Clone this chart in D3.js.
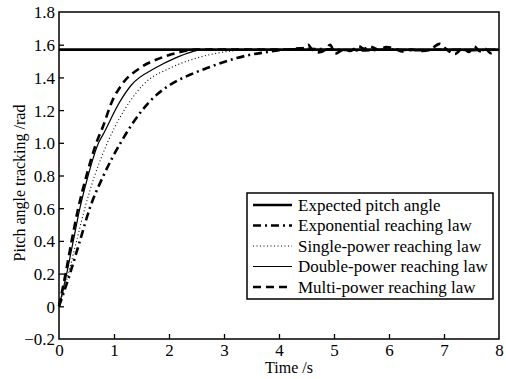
<!DOCTYPE html>
<html><head><meta charset="utf-8">
<script src="https://cdn.jsdelivr.net/npm/d3@7"></script>
<style>body{margin:0;background:#fff}svg{display:block}</style>
</head><body><svg id="c" width="506" height="379"></svg>
<script>
const xTicks = [0,1,2,3,4,5,6,7,8];
const yTicks = [-0.2,0,0.2,0.4,0.6,0.8,1.0,1.2,1.4,1.6,1.8];
const yTickLabels = ["\u22120.2","0","0.2","0.4","0.6","0.8","1.0","1.2","1.4","1.6","1.8"];
const legendNames = ["Expected pitch angle","Exponential reaching law","Single-power reaching law","Double-power reaching law","Multi-power reaching law"];

const expectedT = [0, 8];
const expectedV = [1.57, 1.57];

const expT = [0,0.2,0.38,0.56,0.81,1.12,1.65,2.02,2.38,2.69,3.23,3.5,3.78,4.0,4.2,4.5,5.0,5.5,6.0,6.5,7.0,7.5,8.0];
const expV = [0,0.2,0.4,0.6,0.8,1.0,1.253,1.355,1.416,1.457,1.518,1.54,1.555,1.567,1.572,1.575,1.57,1.565,1.57,1.566,1.57,1.567,1.57];

const singleT = [0,0.17,0.32,0.47,0.65,0.88,1.29,1.53,2.02,2.5,3.1,3.5,8];
const singleV = [0,0.2,0.4,0.6,0.8,1.0,1.253,1.355,1.457,1.518,1.56,1.57,1.57];

const doubleT = [0,0.14,0.26,0.38,0.53,0.72,0.8,1.11,1.32,1.75,2.11,2.4,2.6,8];
const doubleV = [0,0.2,0.4,0.6,0.8,1.0,1.05,1.253,1.355,1.457,1.518,1.555,1.57,1.57];

const multiT = [0,0.12,0.23,0.35,0.5,0.68,0.8,0.96,1.14,1.47,1.84,2.2,2.5,4.2,4.3,4.45,4.53,4.6,4.72,4.85,4.93,5.02,5.15,5.3,5.45,5.55,5.65,5.8,5.95,6.1,6.25,6.4,6.6,6.75,6.92,7.05,7.2,7.35,7.45,7.55,7.65,7.75,7.85,7.95];
const multiV = [0,0.2,0.4,0.6,0.8,1.0,1.1,1.25,1.355,1.457,1.518,1.555,1.57,1.57,1.576,1.58,1.6,1.57,1.553,1.57,1.6,1.545,1.565,1.562,1.59,1.575,1.59,1.57,1.585,1.575,1.558,1.57,1.562,1.57,1.605,1.57,1.543,1.58,1.555,1.59,1.56,1.575,1.548,1.57];

const FONT = "'Liberation Serif','Times New Roman',serif";
const svg = d3.select("#c");
const L=59, R=499, T=12, B=339;
const x = d3.scaleLinear().domain([0,8]).range([L,R]);
const y = d3.scaleLinear().domain([-0.2,1.8]).range([B,T]);

const styles = [
  {w:2.6, dash:null},
  {w:2.6, dash:"8,4,2,4"},
  {w:1.1, dash:"1,2.5"},
  {w:1.2, dash:null},
  {w:2.6, dash:"8,5"}
];
const series = [[expectedT,expectedV],[expT,expV],[singleT,singleV],[doubleT,doubleV],[multiT,multiV]];

const g = svg.append("g");
const line = d3.line().x(d=>x(d[0])).y(d=>y(d[1])).curve(d3.curveMonotoneX);
[1,2,3,4,0].forEach(i=>{
  const [tt,vv]=series[i];
  const pts = tt.map((t,k)=>[t,vv[k]]);
  g.append("path").attr("d",line(pts)).attr("fill","none").attr("stroke","#000")
    .attr("stroke-width",styles[i].w).attr("stroke-dasharray",styles[i].dash);
});

const xAxis = d3.axisBottom(x).tickValues(xTicks).tickSize(-5).tickPadding(4).tickFormat(d3.format("d"));
const yAxis = d3.axisLeft(y).tickValues(yTicks).tickSize(-5).tickPadding(4).tickFormat((d,i)=>yTickLabels[i]);
const gx = svg.append("g").attr("transform",`translate(0,${B})`).call(xAxis);
const gy = svg.append("g").attr("transform",`translate(${L},0)`).call(yAxis);
[gx,gy].forEach(a=>{
  a.attr("font-family",null).attr("font-size",null);
  a.select(".domain").remove();
  a.selectAll("line").attr("stroke","#000").attr("stroke-width",1.3);
  a.selectAll("text").style("font-family",FONT).style("font-size","17px").attr("fill","#000");
});
gx.selectAll(".tick line").filter(d=>d===0||d===8).remove();
gy.selectAll(".tick line").filter(d=>d===-0.2||d===1.8).remove();
gy.selectAll("text").attr("dy","0.35em");
gx.selectAll("text").attr("dy","0.75em");

svg.append("rect").attr("x",L).attr("y",T).attr("width",R-L).attr("height",B-T)
  .attr("fill","none").attr("stroke","#000").attr("stroke-width",1.5);

svg.append("text").attr("x",289).attr("y",373).attr("text-anchor","middle")
  .style("font-family",FONT).style("font-size","16px").text("Time /s");
svg.append("text").attr("transform","translate(25,183) rotate(-90)").attr("text-anchor","middle")
  .style("font-family",FONT).style("font-size","16px").text("Pitch angle tracking /rad");

const lg = svg.append("g");
lg.append("rect").attr("x",247).attr("y",193).attr("width",246).attr("height",106).attr("fill","#fff").attr("stroke","#000").attr("stroke-width",1.5);
legendNames.forEach((n,i)=>{
  const yy = 205 + i*20.5;
  lg.append("line").attr("x1",253).attr("x2",292).attr("y1",yy).attr("y2",yy).attr("stroke","#000")
    .attr("stroke-width",styles[i].w).attr("stroke-dasharray",styles[i].dash);
  lg.append("text").attr("x",298).attr("y",yy).attr("dy","0.35em")
    .style("font-family",FONT).style("font-size","17px").text(n);
});
</script></body></html>
